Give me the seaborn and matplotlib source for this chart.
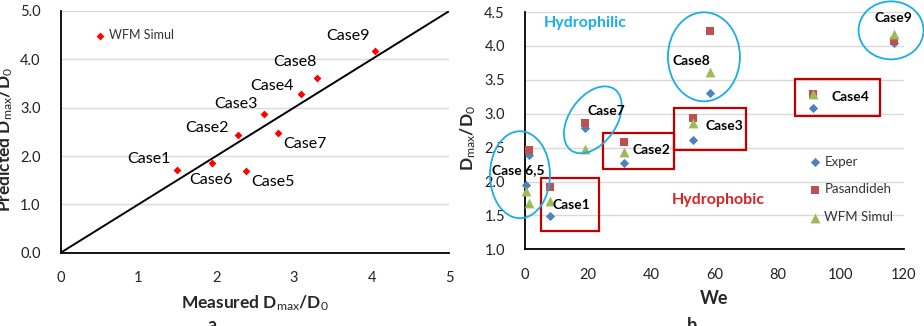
import numpy as np
import pandas as pd
import matplotlib
matplotlib.use("Agg")
import matplotlib.pyplot as plt
import seaborn as sns
from matplotlib.patches import Ellipse, Rectangle
from matplotlib.transforms import ScaledTranslation
from matplotlib.ticker import MultipleLocator, FormatStrFormatter

# ---------------- data ----------------
cases = ["Case1", "Case2", "Case3", "Case4", "Case5", "Case6", "Case7", "Case8", "Case9"]
we = [7.9, 31.5, 53.1, 91.4, 1.4, 0.2, 19.1, 58.6, 117.0]
exper = [1.49, 2.28, 2.61, 3.09, 2.39, 1.95, 2.79, 3.30, 4.04]
wfm_simul = [1.71, 2.43, 2.86, 3.29, 1.69, 1.86, 2.48, 3.61, 4.17]
pasandideh = [1.92, 2.58, 2.94, 3.29, 2.46, np.nan, 2.87, 4.22, 4.08]
diag = [0, 5]

left_xticks = [0, 1, 2, 3, 4, 5]
left_yticks = [0.0, 1.0, 2.0, 3.0, 4.0, 5.0]
right_xticks = [0, 20, 40, 60, 80, 100, 120]
right_yticks = [1.0, 1.5, 2.0, 2.5, 3.0, 3.5, 4.0, 4.5]

# ---------------- layout (annotation placement) ----------------
left_label_offsets = [(-20, 7.7), (-22, 5), (-20, 7.5), (-21, 5.8), (19, -8.1),
                      (-1, -12.7), (19.4, -7.9), (-16, 11.5), (-19.4, 10.8)]
right_labels = [("Case1", 14.6, 1.65), ("Case2", 40.2, 2.46), ("Case3", 63.2, 2.82),
                ("Case4", 103.0, 3.24), ("Case 6,5", -2.1, 2.17), ("Case7", 25.9, 3.04),
                ("Case8", 52.8, 3.78), ("Case9", 116.6, 4.41)]
# ellipses: center (data), width/height (px), angle
ellipses = [(-1.6, 2.10, 60, 87, 0), (21.5, 2.91, 75, 47, 54.7),
            (56.7, 3.84, 72, 89, 0), (116.0, 4.23, 65, 58, 0)]
# rectangles: x0, x1, y0, y1 (data)
rects = [(5.0, 23.5, 1.27, 2.05), (24.6, 47.1, 2.18, 2.72),
         (47.3, 69.9, 2.47, 3.08), (85.6, 112.5, 2.96, 3.51)]

# ---------------- style ----------------
sns.set_theme(style="white")
plt.rcParams["font.family"] = ["Lato", "DejaVu Sans"]
plt.rcParams["mathtext.fontset"] = "custom"
plt.rcParams["mathtext.rm"] = "Lato"
plt.rcParams["mathtext.bf"] = "Lato:bold"
plt.rcParams["mathtext.it"] = "Lato:italic"

CYAN = "#1AAEE6"
DRED = "#C00000"
GRID = "#D9D9D9"

fig = plt.figure(figsize=(9.24, 3.26), dpi=100)
ax1 = fig.add_axes([0.0657, 0.2248, 0.4206, 0.7415])
ax2 = fig.add_axes([0.5682, 0.2353, 0.4098, 0.7277])


def style_axes(ax):
    for s in ["top", "right"]:
        ax.spines[s].set_visible(False)
    for s in ["left", "bottom"]:
        ax.spines[s].set_color("black")
        ax.spines[s].set_linewidth(1.3)
    ax.set_axisbelow(True)
    ax.yaxis.grid(True, color=GRID, lw=1.0)
    ax.xaxis.grid(False)
    ax.tick_params(which="major", direction="inout", length=9, width=1.2,
                   colors="black", labelsize=10.5, labelcolor="#222222")
    ax.tick_params(which="minor", direction="out", length=4, width=1.0, colors="black")
    ax.tick_params(axis="y", which="major", pad=10)
    ax.tick_params(axis="x", which="major", pad=9)


# ---------------- left panel ----------------
sns.lineplot(x=diag, y=diag, color="black", lw=1.4, ax=ax1, legend=False)
sns.scatterplot(x=exper, y=wfm_simul, marker="D", color="#FF0000", s=16,
                linewidth=0, ax=ax1, label="WFM Simul", zorder=3)
for name, xv, yv, off in zip(cases, exper, wfm_simul, left_label_offsets):
    ax1.annotate(name, (xv, yv), xytext=off, textcoords="offset points",
                 ha="center", va="center", fontsize=11.5, color="black")
ax1.set_xlim(0, 5)
ax1.set_ylim(0, 5)
ax1.set_xticks(left_xticks)
ax1.set_yticks(left_yticks)
ax1.xaxis.set_minor_locator(MultipleLocator(0.5))
ax1.yaxis.set_minor_locator(MultipleLocator(0.5))
ax1.yaxis.set_major_formatter(FormatStrFormatter("%.1f"))
style_axes(ax1)
ax1.set_xlabel(r"Measured D$_{\mathrm{max}}$/D$_{\mathrm{0}}$", fontsize=12.5,
               fontweight="bold", labelpad=6)
ax1.set_ylabel(r"Predicted D$_{\mathrm{max}}$/D$_{\mathrm{0}}$", fontsize=12.5,
               fontweight="bold")
ax1.yaxis.set_label_coords(-0.118, 0.47)
ax1.legend(loc="center left", bbox_to_anchor=(0.088, 0.9), frameon=False,
           fontsize=9, handlelength=0.8, handletextpad=0.3, borderaxespad=0,
           borderpad=0, labelcolor="#333333")

# ---------------- right panel ----------------
series = [("Exper", exper, "D", "#4F81BD", 22),
          ("Pasandideh", pasandideh, "s", "#C0504D", 38),
          ("WFM Simul", wfm_simul, "^", "#9BBB59", 50)]
for lab, vals, mk, col, sz in series:
    sns.scatterplot(x=we, y=vals, marker=mk, color=col, s=sz, linewidth=0,
                    ax=ax2, label=lab, zorder=3, clip_on=False)
ax2.set_xlim(0, 120)
ax2.set_ylim(1.0, 4.5)
ax2.set_xticks(right_xticks)
ax2.set_yticks(right_yticks)
ax2.xaxis.set_minor_locator(MultipleLocator(10))
ax2.yaxis.set_minor_locator(MultipleLocator(0.1))
ax2.yaxis.set_major_formatter(FormatStrFormatter("%.1f"))
style_axes(ax2)
ax2.tick_params(axis="y", which="minor", length=3.5)
ax2.set_xlabel("We", fontsize=13, fontweight="bold", labelpad=6)
ax2.set_ylabel(r"D$_{\mathrm{max}}$/D$_{\mathrm{0}}$", fontsize=12.5, fontweight="bold")
ax2.yaxis.set_label_coords(-0.124, 0.47)

for x0, x1, y0, y1 in rects:
    ax2.add_patch(Rectangle((x0, y0), x1 - x0, y1 - y0, fill=False, ec=DRED,
                            lw=1.6, zorder=2, clip_on=False))
for cx, cy, w, h, ang in ellipses:
    tr = fig.dpi_scale_trans + ScaledTranslation(cx, cy, ax2.transData)
    ax2.add_patch(Ellipse((0, 0), w / 100, h / 100, angle=ang, transform=tr,
                          fill=False, ec=CYAN, lw=1.3, zorder=4, clip_on=False))
for name, tx, ty in right_labels:
    ax2.text(tx, ty, name, ha="center", va="center", fontsize=10,
             fontweight="bold", color="black", zorder=5)
ax2.text(19.2, 4.34, "Hydrophilic", ha="center", va="center", fontsize=11.5,
         fontweight="bold", color=CYAN)
ax2.text(61.3, 1.73, "Hydrophobic", ha="center", va="center", fontsize=11.5,
         fontweight="bold", color="#D42424")
ax2.legend(loc="upper left", bbox_to_anchor=(0.752, 0.395), frameon=False,
           fontsize=9.5, handlelength=0.8, handletextpad=0.3, labelspacing=1.2,
           borderaxespad=0, borderpad=0, labelcolor="#333333")

fig.text(212 / 924, 1 - 317 / 326, "a", ha="center", va="top", fontsize=13, fontweight="bold")
fig.text(692 / 924, 1 - 317 / 326, "b", ha="center", va="top", fontsize=13, fontweight="bold")

fig.savefig("out.png", dpi=100)
